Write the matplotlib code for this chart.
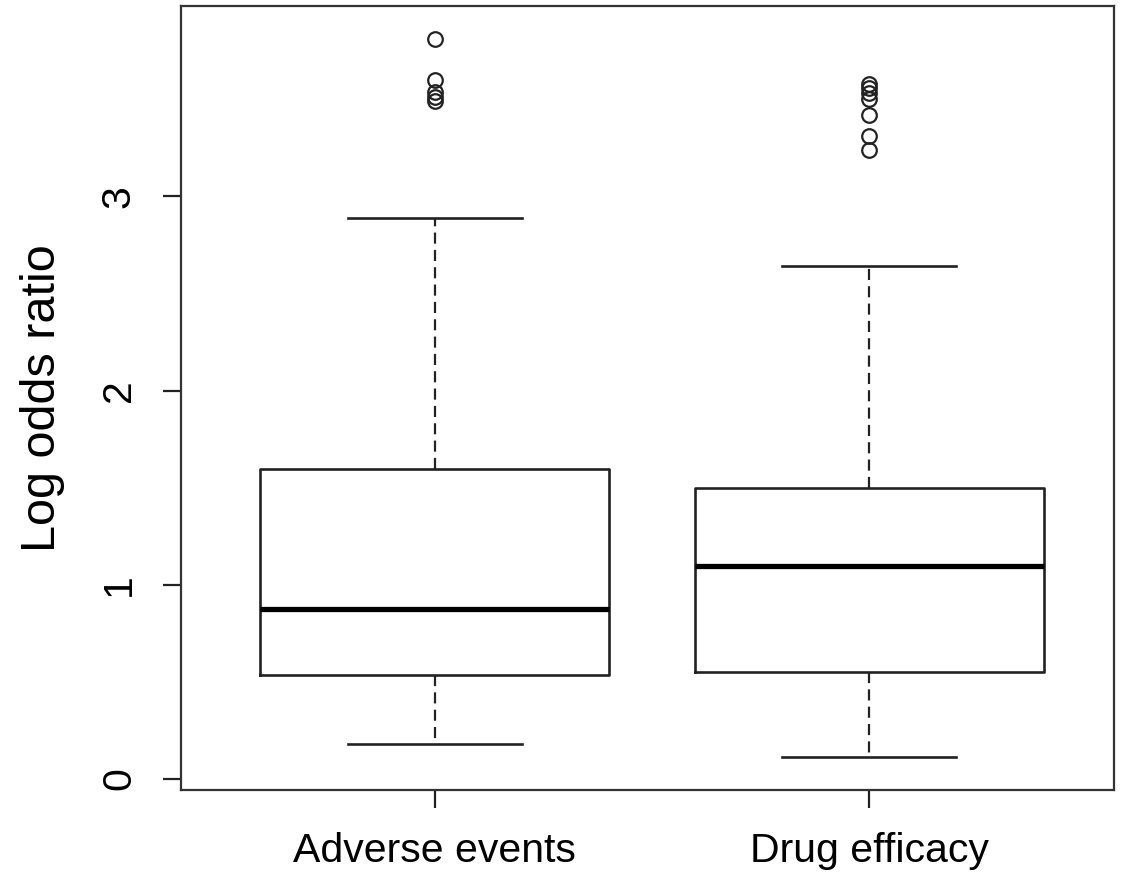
import matplotlib
matplotlib.use("Agg")
import matplotlib.pyplot as plt

# Dane (log odds ratio)
groups = ["Adverse events", "Drug efficacy"]
medians = [0.875, 1.095]
q1 = [0.535, 0.551]
q3 = [1.595, 1.50]
whisker_low = [0.18, 0.113]
whisker_high = [2.89, 2.64]
outliers_adverse = [3.81, 3.60, 3.54, 3.51, 3.49]
outliers_drug = [3.58, 3.56, 3.53, 3.50, 3.42, 3.31, 3.24]
yticks = [0, 1, 2, 3]

outliers = [outliers_adverse, outliers_drug]
stats = []
for i, name in enumerate(groups):
    stats.append({
        "label": name,
        "med": medians[i],
        "q1": q1[i],
        "q3": q3[i],
        "whislo": whisker_low[i],
        "whishi": whisker_high[i],
        "fliers": outliers[i],
    })

plt.rcParams["font.family"] = ["Liberation Sans", "DejaVu Sans"]

fig = plt.figure(figsize=(11.24, 8.72), dpi=100)
ax = fig.add_axes([0.161, 0.094, 0.830, 0.899])

line_col = "#222222"
ax.bxp(stats, positions=[1, 2], widths=0.804, showfliers=True,
       boxprops=dict(color=line_col, linewidth=1.9),
       medianprops=dict(color="black", linewidth=3.8),
       whiskerprops=dict(color=line_col, linewidth=1.6, linestyle=(0, (5.0, 2.8))),
       capprops=dict(color=line_col, linewidth=1.9),
       flierprops=dict(marker="o", markerfacecolor="none", markeredgecolor=line_col,
                       markersize=10.5, markeredgewidth=1.6),
       capwidths=0.402)

ax.set_xlim(0.415, 2.564)
ax.set_ylim(-0.057, 3.98)
ax.set_yticks(yticks)
ax.set_yticklabels([str(t) for t in yticks], rotation=90, va="center")
ax.set_xticks([1, 2])
ax.set_xticklabels(groups)

ax.tick_params(axis="both", direction="out", length=13, width=1.6,
               colors=line_col, labelsize=29.5, labelcolor="black")
ax.tick_params(axis="x", pad=17)
ax.tick_params(axis="y", pad=18)

for sp in ax.spines.values():
    sp.set_color("#333333")
    sp.set_linewidth(1.6)

ax.set_ylabel("Log odds ratio", fontsize=35)
ax.yaxis.set_label_coords(-0.124, 0.5)

fig.savefig("out.png", dpi=100)
